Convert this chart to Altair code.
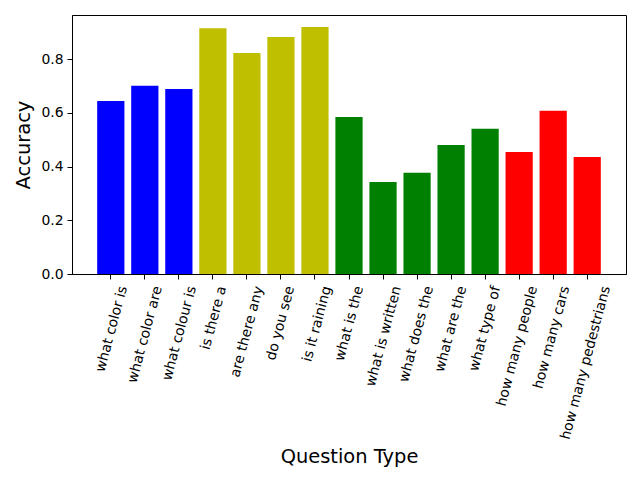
import altair as alt
import pandas as pd

categories = ["what color is", "what color are", "what colour is", "is there a",
              "are there any", "do you see", "is it raining", "what is the",
              "what is written", "what does the", "what are the", "what type of",
              "how many people", "how many cars", "how many pedestrians"]
accuracy = [0.645, 0.701, 0.689, 0.916, 0.823, 0.883, 0.920, 0.585,
            0.343, 0.377, 0.481, 0.541, 0.455, 0.608, 0.436]
colors = ["#0000ff"] * 3 + ["#bfbf00"] * 4 + ["#008000"] * 5 + ["#ff0000"] * 3
y_ticks = [0.0, 0.2, 0.4, 0.6, 0.8]

df = pd.DataFrame({"q": categories, "acc": accuracy, "c": colors})

FONT = "DejaVu Sans"

chart = alt.Chart(df).mark_bar().encode(
    x=alt.X("q:N", sort=categories,
            scale=alt.Scale(paddingInner=0.2, paddingOuter=0.74),
            axis=alt.Axis(title="Question Type", labelAngle=-75, labelAlign="right",
                          labelBaseline="middle", labelOffset={"expr": "length(datum.label) * 0.95"},
                          labelPadding=7, labelOverlap=False, labelLimit=0, labelFlush=False,
                          labelFontSize=13.9, labelColor="black", labelFont=FONT,
                          tickSize=5, tickColor="black", domainColor="black",
                          titleFontSize=19.44, titleFont=FONT, titleFontWeight="normal",
                          titleColor="black", titleX=277, titleY=188,
                          titleBaseline="alphabetic", titleAlign="center")),
    y=alt.Y("acc:Q", scale=alt.Scale(domain=[0, 0.965], nice=False, zero=True),
            axis=alt.Axis(title="Accuracy", values=y_ticks, format=".1f", grid=False,
                          labelFontSize=13.9, labelColor="black", labelFont=FONT,
                          labelPadding=4, tickSize=5, tickColor="black", domainColor="black",
                          titleFontSize=19.44, titleFont=FONT, titleFontWeight="normal",
                          titleColor="black", titleX=-43, titleY=129.5, titleAngle=270,
                          titleBaseline="alphabetic", titleAlign="center")),
    color=alt.Color("c:N", scale=None, legend=None),
).properties(
    width=554, height=259,
    autosize=alt.AutoSizeParams(type="none"),
    padding={"left": 64, "top": 7, "right": 6, "bottom": 198},
).configure_view(stroke="black", strokeWidth=1)

chart.save("out.html", embed_options={"renderer": "svg", "actions": False})
